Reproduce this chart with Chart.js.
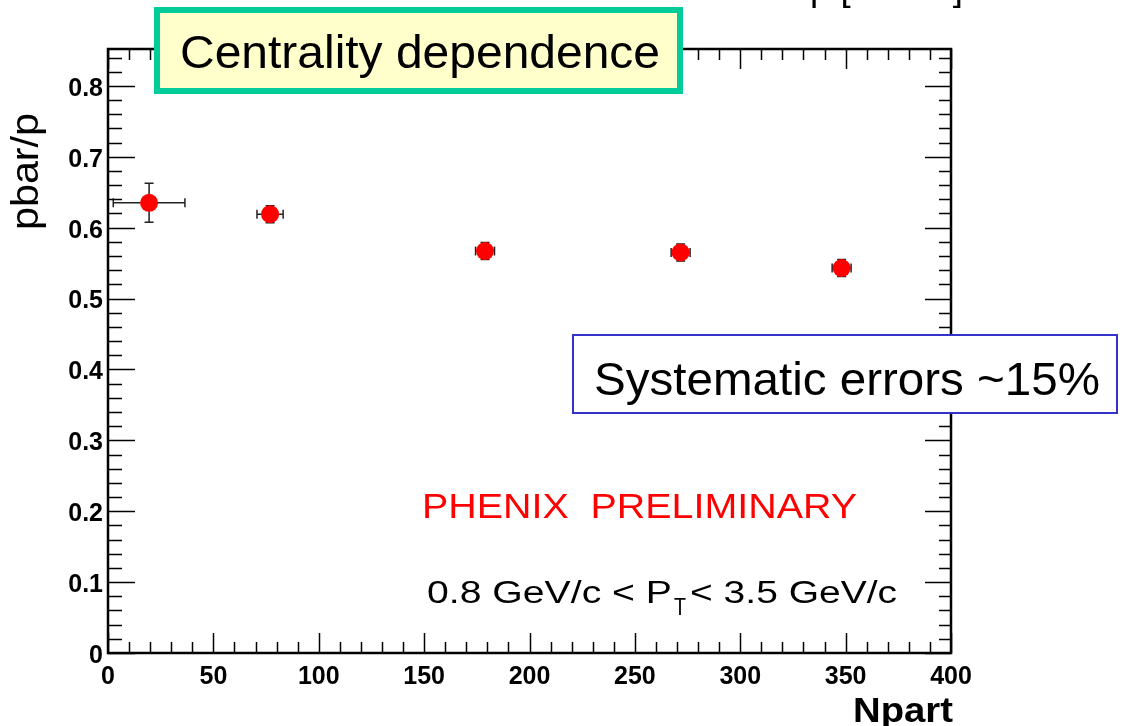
<!DOCTYPE html>
<html>
<head>
<meta charset="utf-8">
<script src="https://cdn.jsdelivr.net/npm/chart.js@4.4.1/dist/chart.umd.min.js"></script>
<style>
  body { margin: 0; background: #fff; }
  canvas { display: block; }
</style>
</head>
<body>
<canvas id="ratioChart" width="1126" height="726"></canvas>
<script>
// pbar/p vs Npart
const npart = [19.5, 76.9, 178.9, 271.7, 348.1];
const ratio = [0.635, 0.619, 0.567, 0.565, 0.543];
const npartErr = [17, 6.2, 4.5, 4.5, 4.5];
const ratioErr = [0.0275, 0.012, 0.012, 0.012, 0.012];

const xTicks = [0, 50, 100, 150, 200, 250, 300, 350, 400];
const yTicks = [0, 0.1, 0.2, 0.3, 0.4, 0.5, 0.6, 0.7, 0.8];
const yTickLabels = ['0', '0.1', '0.2', '0.3', '0.4', '0.5', '0.6', '0.7', '0.8'];

const X_MAX = 400;
const Y_MAX = 0.852;
const SANS = '"Liberation Sans", Arial, sans-serif';

// draw text squeezed/stretched to a given width
function fitText(ctx, text, x, y, font, width) {
  ctx.save();
  ctx.font = font;
  const w = ctx.measureText(text).width;
  ctx.translate(x, y);
  ctx.scale(width / w, 1);
  ctx.fillText(text, 0, 0);
  ctx.restore();
}

const errorBars = {
  id: 'errorBars',
  beforeDatasetsDraw(chart) {
    const { ctx, scales: { x, y } } = chart;
    ctx.save();
    ctx.strokeStyle = '#222';
    ctx.lineWidth = 1.5;
    npart.forEach((n, i) => {
      const px = x.getPixelForValue(n);
      const py = y.getPixelForValue(ratio[i]);
      const x1 = x.getPixelForValue(n - npartErr[i]);
      const x2 = x.getPixelForValue(n + npartErr[i]);
      const y1 = y.getPixelForValue(ratio[i] - ratioErr[i]);
      const y2 = y.getPixelForValue(ratio[i] + ratioErr[i]);
      ctx.beginPath();
      ctx.moveTo(x1, py); ctx.lineTo(x2, py);
      ctx.moveTo(x1, py - 4.5); ctx.lineTo(x1, py + 4.5);
      ctx.moveTo(x2, py - 4.5); ctx.lineTo(x2, py + 4.5);
      ctx.moveTo(px, y1); ctx.lineTo(px, y2);
      ctx.moveTo(px - 4.5, y1); ctx.lineTo(px + 4.5, y1);
      ctx.moveTo(px - 4.5, y2); ctx.lineTo(px + 4.5, y2);
      ctx.stroke();
    });
    ctx.restore();
  }
};

// ROOT style frame with inward ticks on all four sides
const frame = {
  id: 'frame',
  beforeDatasetsDraw(chart) {
    const { ctx, chartArea: a, scales: { x, y } } = chart;
    ctx.save();
    ctx.strokeStyle = '#000';
    ctx.lineWidth = 1.5;
    ctx.beginPath();
    for (let v = 0; v <= X_MAX + 0.001; v += 10) {
      const px = Math.round(x.getPixelForValue(v)) + 0.5;
      const len = v % 50 === 0 ? 20 : 11;
      ctx.moveTo(px, a.bottom); ctx.lineTo(px, a.bottom - len);
      ctx.moveTo(px, a.top); ctx.lineTo(px, a.top + len);
    }
    for (let k = 0; k * 0.02 <= Y_MAX; k++) {
      const py = Math.round(y.getPixelForValue(k * 0.02)) + 0.5;
      const major = k % 5 === 0;
      ctx.moveTo(a.left, py); ctx.lineTo(a.left + (major ? 27 : 14), py);
      ctx.moveTo(a.right, py); ctx.lineTo(a.right - (major ? 26 : 12), py);
    }
    ctx.stroke();
    ctx.lineWidth = 2.5;
    ctx.strokeRect(a.left, a.top, a.right - a.left, a.bottom - a.top);
    ctx.restore();
  },
  afterDraw(chart) {
    const { ctx } = chart;
    ctx.save();
    ctx.fillStyle = '#000';
    ctx.textBaseline = 'alphabetic';

    // clipped title at the very top
    fitText(ctx, 'p [GeV/c]', 810, 0, '36px ' + SANS, 153);

    // axis titles
    ctx.save();
    ctx.translate(38, 230);
    ctx.rotate(-Math.PI / 2);
    fitText(ctx, 'pbar/p', 0, 0, '38px ' + SANS, 117);
    ctx.restore();
    fitText(ctx, 'Npart', 853, 722, 'bold 35px ' + SANS, 100);

    // Centrality box
    ctx.fillStyle = '#ffffcc';
    ctx.fillRect(157, 10, 523, 81);
    ctx.strokeStyle = '#00cc99';
    ctx.lineWidth = 6;
    ctx.strokeRect(157, 10, 523, 81);
    ctx.fillStyle = '#000';
    fitText(ctx, 'Centrality dependence', 180, 68, '46px ' + SANS, 480);

    // Systematic errors box
    ctx.fillStyle = '#fff';
    ctx.fillRect(573, 335, 544, 78);
    ctx.strokeStyle = '#3333cc';
    ctx.lineWidth = 2;
    ctx.strokeRect(573, 335, 544, 78);
    ctx.fillStyle = '#000';
    fitText(ctx, 'Systematic errors ~15%', 594, 395, '46px ' + SANS, 506);

    ctx.fillStyle = '#ff0000';
    fitText(ctx, 'PHENIX  PRELIMINARY', 422, 518, '35px ' + SANS, 435);

    // pT range with subscript
    ctx.fillStyle = '#000';
    fitText(ctx, '0.8 GeV/c < P', 427, 603, '31px ' + SANS, 245);
    fitText(ctx, 'T', 674, 615, '24px ' + SANS, 12);
    fitText(ctx, '< 3.5 GeV/c', 690, 603, '31px ' + SANS, 207);
    ctx.restore();
  }
};

new Chart(document.getElementById('ratioChart'), {
  type: 'scatter',
  data: {
    datasets: [
      {
        data: npart.map((n, i) => ({ x: n, y: ratio[i] })),
        backgroundColor: '#ff0000',
        borderWidth: 0,
        pointRadius: 9,
        pointHoverRadius: 9,
      },
    ],
  },
  options: {
    responsive: false,
    animation: false,
    layout: { padding: { top: 49, right: 175, left: 0, bottom: 0 } },
    plugins: { legend: { display: false }, tooltip: { enabled: false } },
    scales: {
      x: {
        type: 'linear',
        min: 0,
        max: X_MAX,
        grid: { display: false, drawTicks: false, tickLength: 0 },
        border: { display: false },
        afterBuildTicks: (s) => { s.ticks = xTicks.map((v) => ({ value: v })); },
        afterFit: (s) => { s.height = 73; },
        ticks: {
          padding: 9,
          maxRotation: 0,
          color: '#000',
          font: { family: SANS, size: 25, weight: 'bold' },
          callback: (v) => String(v),
        },
      },
      y: {
        type: 'linear',
        min: 0,
        max: Y_MAX,
        grid: { display: false, drawTicks: false, tickLength: 0 },
        border: { display: false },
        afterBuildTicks: (s) => { s.ticks = yTicks.map((v) => ({ value: v })); },
        afterFit: (s) => { s.width = 108; },
        ticks: {
          padding: 5,
          labelOffset: 3,
          color: '#000',
          font: { family: SANS, size: 25, weight: 'bold' },
          callback: (v, i) => yTickLabels[i],
        },
      },
    },
  },
  plugins: [errorBars, frame],
});
</script>
</body>
</html>
